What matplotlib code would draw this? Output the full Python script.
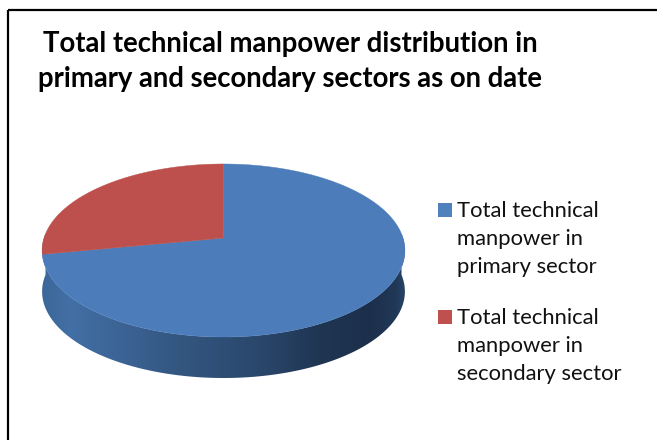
import matplotlib
matplotlib.use('Agg')
import matplotlib.pyplot as plt
from matplotlib.patches import Polygon, Rectangle
import numpy as np

title_lines = ['Total technical manpower distribution in',
               'primary and secondary sectors as on date']
labels = ['Total technical\nmanpower in\nprimary sector',
          'Total technical\nmanpower in\nsecondary sector']
values = [72, 28]
colors = ['#4c7dba', '#bd504c']
legend_colors = ['#4f81bd', '#c0504d']

W, H = 657, 440
# pie placement in pixels
cx, cy = 223.5, 238
rx_scale = 179.5
depth = 41
k = 0.1445
A = 84.7


def project(theta):
    # theta measured clockwise from the top of the pie, with a bit of perspective
    u = np.sin(theta)
    v = np.cos(theta)
    w = 1 + k * v
    return cx + rx_scale * u / w, cy - A * v / w


plt.rcParams['font.family'] = ['Lato', 'DejaVu Sans']
fig = plt.figure(figsize=(W / 100, H / 100), dpi=100)
ax = fig.add_axes([0, 0, 1, 1])
ax.set_xlim(0, W)
ax.set_ylim(H, 0)
ax.axis('off')

# frame: only top and left show in the crop
ax.plot([8, 8], [10.5, H], color='black', lw=1.6, solid_capstyle='butt')
ax.plot([8, 656.5], [10.5, 10.5], color='black', lw=1.6, solid_capstyle='butt')

# side wall with gradient
t = np.linspace(np.pi / 2 - 0.05, 3 * np.pi / 2 + 0.05, 200)
ex, ey = project(t)
wall = np.column_stack([np.r_[ex, ex[::-1]], np.r_[ey, ey[::-1] + depth]])
patch = Polygon(wall, closed=True, facecolor='none', edgecolor='none')
ax.add_patch(patch)
stops_x = [42, 70, 110, 180, 260, 320, 370, 395, 407]
stops_c = [(0x3d, 0x67, 0x9a), (0x42, 0x6f, 0xa5), (0x3d, 0x66, 0x98), (0x33, 0x56, 0x80),
           (0x2a, 0x47, 0x6b), (0x1f, 0x35, 0x52), (0x1c, 0x30, 0x4b), (0x20, 0x38, 0x57),
           (0x2a, 0x47, 0x6c)]
xs = np.arange(40, 410)
grad = np.stack([np.interp(xs, stops_x, [c[i] for c in stops_c]) for i in range(3)], axis=-1) / 255
img = ax.imshow(grad[np.newaxis, :, :], extent=(40, 410, 385, 230), aspect='auto', zorder=2)
img.set_clip_path(patch)
ax.set_xlim(0, W)
ax.set_ylim(H, 0)

# top face, slices go clockwise from 12 o'clock
start = 0.0
total = sum(values)
for val, col in zip(values, colors):
    end = start + val / total * 2 * np.pi
    th = np.linspace(start, end, 300)
    px, py = project(th)
    pts = np.column_stack([np.r_[cx, px], np.r_[cy, py]])
    ax.add_patch(Polygon(pts, closed=True, facecolor=col, edgecolor=col, lw=0.3, zorder=3))
    start = end

# title
ax.text(290.5, 44, title_lines[0], fontsize=19.8, fontweight='bold', ha='center', va='center', color='black')
ax.text(290, 79, title_lines[1], fontsize=19.8, fontweight='bold', ha='center', va='center', color='black')

# legend
legend_y = [203, 310]
for lab, col, y in zip(labels, legend_colors, legend_y):
    ax.add_patch(Rectangle((438, y), 14, 14, facecolor=col, edgecolor='none'))
    ax.text(457, y + 36, lab, fontsize=15.8, ha='left', va='center', color='#111111', linespacing=1.52)

fig.savefig('out.png', dpi=100, facecolor='white')
